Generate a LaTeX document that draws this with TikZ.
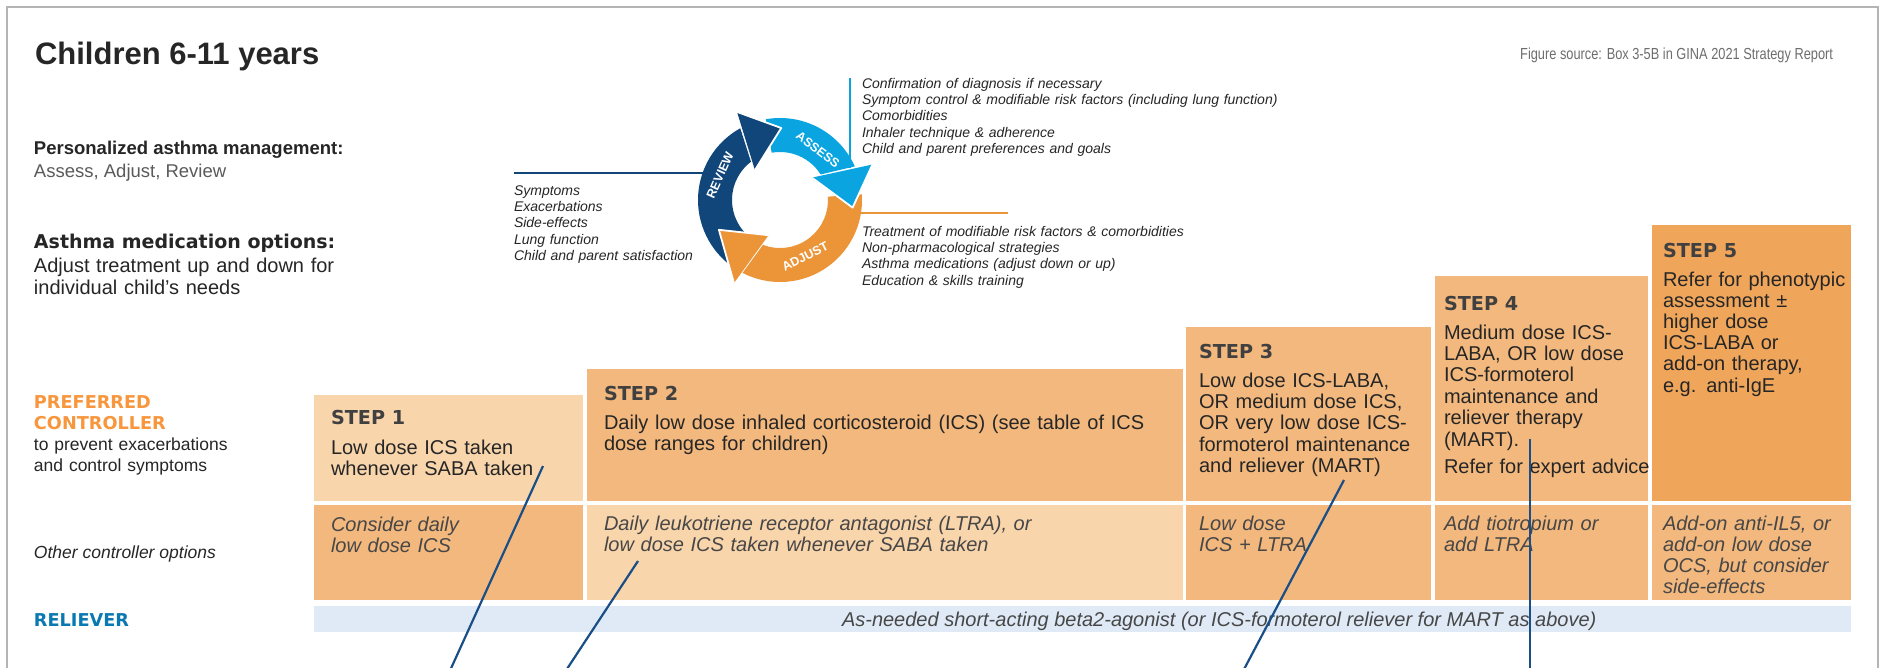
\documentclass[tikz,border=0pt]{standalone}
\usepackage{fontspec}
\setmainfont{Liberation Sans}
\newfontfamily\heavyfont{DejaVu Sans}
\newfontfamily\narrowfont{Liberation Sans}[FakeStretch=0.8]
\definecolor{peachL}{HTML}{F9D5AC}
\definecolor{peachM}{HTML}{F3B87D}
\definecolor{peachD}{HTML}{EFA55A}
\definecolor{relbar}{HTML}{E0EAF6}
\definecolor{navyring}{HTML}{10467A}
\definecolor{cyanring}{HTML}{0AA5E0}
\definecolor{orangering}{HTML}{EC9538}
\definecolor{ptrline}{HTML}{1A4E86}
\definecolor{txtdark}{HTML}{262626}
\definecolor{txtgray}{HTML}{5A5A5A}
\definecolor{stepgray}{HTML}{404040}
\definecolor{othergray}{HTML}{474747}
\definecolor{prefor}{HTML}{F7963C}
\definecolor{relblue}{HTML}{0B79B1}
\definecolor{framegray}{HTML}{B4B4B4}
\definecolor{srcgray}{HTML}{6E6E6E}
\hyphenpenalty=10000
\exhyphenpenalty=10000
\begin{document}
\begin{tikzpicture}[x=1pt,y=-1pt,
  every node/.style={inner sep=0pt, outer sep=0pt},
  body/.style={anchor=base west, text width=#1, align=left, text=txtdark,
    font=\fontsize{20}{21.4}\selectfont},
  body/.default=190pt,
  otheropt/.style={anchor=base west, text width=#1, align=left, text=othergray,
    font=\itshape\fontsize{20}{21.2}\selectfont},
  otheropt/.default=190pt,
  steplbl/.style={anchor=base west, text=stepgray,
    font=\heavyfont\bfseries\fontsize{19.2}{20}\selectfont},
  cyclelist/.style={anchor=base west, text width=#1, align=left, text=txtdark,
    font=\itshape\fontsize{14}{16.4}\selectfont},
  ringlbl/.style={text=white, font=\bfseries\fontsize{12.5}{12.5}\selectfont},
  ptr/.style={draw=ptrline, line width=2.2pt},
  headedge/.style={draw=white, line width=1.8pt, line join=round}
]
\useasboundingbox (0,0) rectangle (1885,667);
\fill[white] (0,0) rectangle (1885,667);

% frame
\draw[framegray, line width=2pt] (7,672) -- (7,7) -- (1878,7) -- (1878,672);

% header texts
\node[anchor=base west, font=\bfseries\fontsize{31}{33}\selectfont, text=txtdark] (title) at (35,64) {Children 6-11 years};
\node[anchor=base east, font=\narrowfont\fontsize{16}{18}\selectfont, text=srcgray] (src) at (1833,59) {Figure source: Box 3-5B in GINA 2021 Strategy Report};
\node[anchor=base west, font=\bfseries\fontsize{18.5}{20}\selectfont, text=txtdark] (pam) at (34,154) {Personalized asthma management:};
\node[anchor=base west, font=\fontsize{18.5}{20}\selectfont, text=txtgray] (aar) at (34,177) {Assess, Adjust, Review};
\node[anchor=base west, font=\heavyfont\bfseries\fontsize{19}{20}\selectfont, text=txtdark] (amo) at (34,248) {Asthma medication options:};
\node[anchor=base west, text width=340pt, align=left, font=\fontsize{20}{22}\selectfont, text=txtdark] (atud) at (34,272) {Adjust treatment up and down for\\individual child’s needs};

% cycle texts
\node[cyclelist=180pt] (revtxt) at (514,195) {Symptoms\\Exacerbations\\Side-effects\\Lung function\\Child and parent satisfaction};
\node[cyclelist=420pt] (asstxt) at (862,88) {Confirmation of diagnosis if necessary\\Symptom control \& modifiable risk factors (including lung function)\\Comorbidities\\Inhaler technique \& adherence\\Child and parent preferences and goals};
\node[cyclelist=340pt] (adjtxt) at (862,236) {Treatment of modifiable risk factors \& comorbidities\\Non-pharmacological strategies\\Asthma medications (adjust down or up)\\Education \& skills training};

% cycle rules
\coordinate (revA) at (514,173);
\coordinate (revB) at (720,173);
\coordinate (assA) at (850,78);
\coordinate (assB) at (850,168);
\coordinate (adjA) at (845,213);
\coordinate (adjB) at (1008,213);
\draw[navyring, line width=1.6pt] (revA) -- (revB);
\draw[cyanring, line width=1.6pt] (assA) -- (assB);
\draw[orangering, line width=1.6pt] (adjA) -- (adjB);

% ring
\begin{scope}[shift={(780,200)}]
  \fill[navyring] (128:82) arc[start angle=128, end angle=241, radius=82] -- (232.8:48) arc[start angle=232.8, end angle=128, radius=48] -- cycle;
  \fill[cyanring] (260:82) arc[start angle=260, end angle=335.8, radius=82] -- (327.8:48) arc[start angle=327.8, end angle=260, radius=48] -- cycle;
  \fill[orangering] (-4:82) arc[start angle=-4, end angle=117.2, radius=82] -- (110.8:48) arc[start angle=110.8, end angle=-4, radius=48] -- cycle;
  % heads
  \fill[navyring] (230:39) -- (244:98) -- (271:72) -- cycle;
  \draw[headedge] (244:98) -- (271:72) -- (230:39);
  \fill[cyanring] (325:39) -- (339:99) -- (366:73) -- cycle;
  \draw[headedge] (339:99) -- (366:73) -- (325:39);
  \fill[orangering] (108:37) -- (119:95) -- (154:68) -- cycle;
  \draw[headedge] (119:95) -- (154:68) -- (108:37);
  \node[ringlbl, rotate=66] (rv) at (202.6:65) {REVIEW};
  \node[ringlbl, rotate=-37] (as) at (307:63) {ASSESS};
  \node[ringlbl, rotate=27] (ad) at (66:62) {ADJUST};
\end{scope}

% left row labels
\node[anchor=base west, text width=150pt, align=left, font=\heavyfont\bfseries\fontsize{17.7}{21}\selectfont, text=prefor] (pref) at (34,408) {PREFERRED\\CONTROLLER};
\node[anchor=base west, text width=210pt, align=left, font=\fontsize{17.5}{21}\selectfont, text=txtdark] (prev) at (34,450) {to prevent exacerbations\\and control symptoms};
\node[anchor=base west, font=\itshape\fontsize{17.5}{20}\selectfont, text=txtdark] (othl) at (34,558) {Other controller options};
\node[anchor=base west, font=\heavyfont\bfseries\fontsize{17.7}{20}\selectfont, text=relblue] (rell) at (34,626) {RELIEVER};

% step cells
\fill[peachL] (314,395) rectangle (583,501);
\fill[peachM] (314,505) rectangle (583,600);
\fill[peachM] (586.5,369) rectangle (1182.5,501);
\fill[peachL] (586.5,505) rectangle (1182.5,600);
\fill[peachM] (1186,327) rectangle (1430.5,501);
\fill[peachM] (1186,505) rectangle (1430.5,600);
\fill[peachM] (1434.5,276) rectangle (1648,501);
\fill[peachM] (1434.5,505) rectangle (1648,600);
\fill[peachD] (1652,225) rectangle (1851,501);
\fill[peachM] (1652,505) rectangle (1851,600);
\fill[relbar] (314,606) rectangle (1851,632);

% step texts
\node[steplbl] (s1l) at (331,424) {STEP 1};
\node[body=240pt] (s1t) at (331,454) {Low dose ICS taken\\whenever SABA taken};
\node[otheropt=240pt] (s1o) at (331,531) {Consider daily\\low dose ICS};

\node[steplbl] (s2l) at (604,400) {STEP 2};
\node[body=570pt] (s2t) at (604,429) {Daily low dose inhaled corticosteroid (ICS) (see table of ICS\\dose ranges for children)};
\node[otheropt=570pt] (s2o) at (604,530) {Daily leukotriene receptor antagonist (LTRA), or\\low dose ICS taken whenever SABA taken};

\node[steplbl] (s3l) at (1199,358) {STEP 3};
\node[body=230pt] (s3t) at (1199,387) {Low dose ICS-LABA,\\OR medium dose ICS,\\OR very low dose ICS-\\formoterol maintenance\\and reliever (MART)};
\node[otheropt=230pt] (s3o) at (1199,530) {Low dose\\ICS + LTRA};

\node[steplbl] (s4l) at (1444,310) {STEP 4};
\node[body=215pt] (s4t) at (1444,339) {Medium dose ICS-\\LABA, OR low dose\\ICS-formoterol\\maintenance and\\reliever therapy\\(MART).\\[6pt]Refer for expert advice};
\node[otheropt=215pt] (s4o) at (1444,530) {Add tiotropium or\\add LTRA};

\node[steplbl] (s5l) at (1663,257) {STEP 5};
\node[body=186pt, font=\fontsize{20}{21.2}\selectfont] (s5t) at (1663,286) {Refer for phenotypic\\assessment ±\\higher dose\\ICS-LABA or\\add-on therapy,\\e.g. anti-IgE};
\node[otheropt=186pt] (s5o) at (1663,530) {Add-on anti-IL5, or\\add-on low dose\\OCS, but consider\\side-effects};

\node[anchor=base west, font=\itshape\fontsize{20}{22}\selectfont, text=othergray] (relt) at (842,626) {As-needed short-acting beta2-agonist (or ICS-formoterol reliever for MART as above)};

% pointer lines
\coordinate (p1s) at (543,466);
\coordinate (p1e) at (448,675);
\coordinate (p2s) at (638,561);
\coordinate (p2e) at (563,675);
\coordinate (p3s) at (1344,480);
\coordinate (p3e) at (1241,675);
\coordinate (p4s) at (1530,439);
\coordinate (p4e) at (1530,675);
\draw[ptr] (p1s) -- (p1e);
\draw[ptr] (p2s) -- (p2e);
\draw[ptr] (p3s) -- (p3e);
\draw[ptr] (p4s) -- (p4e);
\end{tikzpicture}
\end{document}
